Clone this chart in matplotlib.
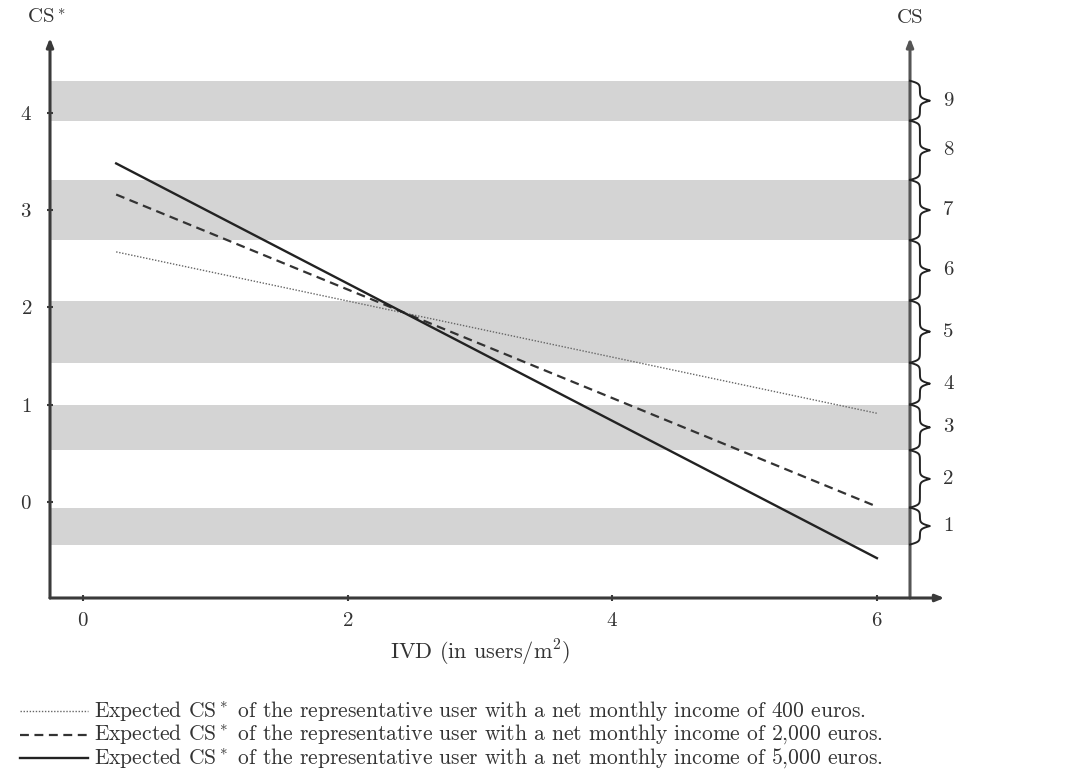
import numpy as np
import matplotlib
matplotlib.use("Agg")
import matplotlib.pyplot as plt
from matplotlib.lines import Line2D

plt.rcParams["font.family"] = ["cmr10", "DejaVu Serif"]
plt.rcParams["mathtext.fontset"] = "cm"
plt.rcParams["axes.formatter.use_mathtext"] = True

# expected CS* lines, endpoints at IVD = 0.25 and 6
ivd = [0.25, 6.0]
cs_400 = [2.57, 0.91]
cs_2000 = [3.16, -0.05]
cs_5000 = [3.48, -0.58]

# thresholds between CS categories (on CS* scale), bottom to top
thresholds = [-0.44, -0.06, 0.53, 1.0, 1.43, 2.07, 2.69, 3.31, 3.92, 4.33]
cs_labels = ["1", "2", "3", "4", "5", "6", "7", "8", "9"]

legend_texts = [
    r"Expected CS$^*$ of the representative user with a net monthly income of 400 euros.",
    r"Expected CS$^*$ of the representative user with a net monthly income of 2,000 euros.",
    r"Expected CS$^*$ of the representative user with a net monthly income of 5,000 euros.",
]

AX = "#3a3a3a"
BAND = "#d4d4d4"

fig = plt.figure(figsize=(10.92, 7.71), dpi=100)
ax = fig.add_axes([50 / 1092, 1 - 598 / 771, 860 / 1092, 560 / 771])
ax.set_xlim(-0.25, 6.25)
ax.set_ylim(-0.99, 4.77)
for s in ax.spines.values():
    s.set_visible(False)

# shaded bands for odd categories
for i in range(0, len(thresholds) - 1, 2):
    ax.axhspan(thresholds[i], thresholds[i + 1], color=BAND, lw=0, zorder=0)

ax.plot(ivd, cs_400, color="#666666", lw=1.0, ls=(0, (1, 1.2)), zorder=3)
ax.plot(ivd, cs_2000, color="#333333", lw=1.6, ls=(0, (4, 2.5)), zorder=3)
ax.plot(ivd, cs_5000, color="#222222", lw=1.7, zorder=3)

# axis lines with arrows
arrow = dict(arrowstyle="-|>,head_length=0.5,head_width=0.2", color=AX, lw=2.2,
             shrinkA=0, shrinkB=0)
ax.annotate("", xy=(0, 1.0), xytext=(0, 0), xycoords="axes fraction",
            arrowprops=arrow, annotation_clip=False)
ax.annotate("", xy=(1.0, 1.0), xytext=(1.0, 0), xycoords="axes fraction",
            arrowprops=dict(arrow, color="#555555"), annotation_clip=False)
ax.annotate("", xy=(1.04, 0), xytext=(0, 0), xycoords="axes fraction",
            arrowprops=arrow, annotation_clip=False)

ax.set_xticks([0, 2, 4, 6])
ax.set_yticks([0, 1, 2, 3, 4])
ax.tick_params(axis="both", direction="inout", length=4, width=1.5, color=AX,
               labelsize=15, labelcolor="#333333")
ax.tick_params(axis="x", pad=8)
ax.tick_params(axis="y", pad=11)
ax.set_xlabel(r"IVD (in users/m$^2$)", fontsize=16, color="#333333", labelpad=6)

fig.text(46 / 1092, 1 - 18 / 771, r"CS$^*$", fontsize=15, color="#333333",
         ha="center", va="center")
fig.text(910 / 1092, 1 - 18 / 771, "CS", fontsize=15, color="#333333",
         ha="center", va="center")


def brace(y0, y1, x0=6.25, w=0.15, beta=70.0):
    mid = (y0 + y1) / 2
    s = np.linspace(y0, mid, 60)
    h = (1 / (1 + np.exp(-beta * (s - y0))) + 1 / (1 + np.exp(-beta * (s - mid))))
    h = (h - h[0]) / (h[-1] - h[0])
    ys = np.concatenate([s, (2 * mid - s)[::-1][1:]])
    xs = np.concatenate([h, h[::-1][1:]])
    ax.plot(x0 + w * xs, ys, color="#222222", lw=1.4, clip_on=False, zorder=4)


for i, lab in enumerate(cs_labels):
    y0, y1 = thresholds[i], thresholds[i + 1]
    brace(y0, y1)
    ax.text(6.54, (y0 + y1) / 2, lab, fontsize=15, color="#333333",
            ha="center", va="center", clip_on=False)

# legend below the chart
styles = [dict(color="#666666", lw=1.0, ls=(0, (1, 1.2))),
          dict(color="#333333", lw=1.6, ls=(0, (4, 2.5))),
          dict(color="#222222", lw=1.7)]
for k, (txt, st) in enumerate(zip(legend_texts, styles)):
    yy = 1 - (711 + 23.5 * k) / 771
    fig.add_artist(Line2D([20 / 1092, 88 / 1092], [yy, yy], **st))
    fig.text(94 / 1092, yy, txt, fontsize=15.5, color="#333333", va="center", ha="left")

fig.savefig("out.png", dpi=100)
